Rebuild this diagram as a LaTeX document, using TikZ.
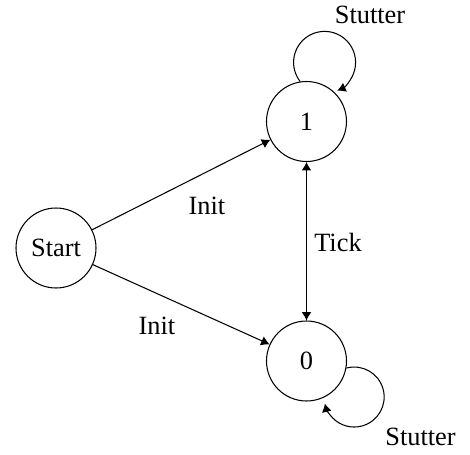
\documentclass[tikz,border=0pt]{standalone}
\usepackage{fontspec}
\setmainfont{Liberation Serif}
\usetikzlibrary{arrows.meta}

\begin{document}
\begin{tikzpicture}[>={Latex[length=4.8pt,width=5.6pt]},line width=0.6pt,font=\fontsize{15}{18}\selectfont,
  state/.style={draw,circle,minimum size=1.6cm,inner sep=0pt}]
\useasboundingbox (0,0) rectangle (9.4,-9.08);
% states
\node[state] (start) at (1.12,-4.96) {Start};
\node[state] (one)   at (6.13,-2.43) {1};
\node[state] (zero)  at (6.13,-7.22) {0};
% transitions
\draw[->] (start) -- (one);
\draw[->] (start) -- (zero);
\draw[<->] (one) -- (zero);
\draw[->] (one.99) arc[start angle=218, end angle=-66, radius=0.62cm];
\draw[->] (zero.-10) arc[start angle=105, end angle=-167.5, radius=0.6cm];
% labels
\node (initup) at (4.14,-4.12) {Init};
\node (initdown) at (3.14,-6.52) {Init};
\node (tick) at (6.76,-4.84) {Tick};
\node (stutterup) at (7.4,-0.29) {Stutter};
\node (stutterdown) at (8.41,-8.73) {Stutter};
\end{tikzpicture}
\end{document}
